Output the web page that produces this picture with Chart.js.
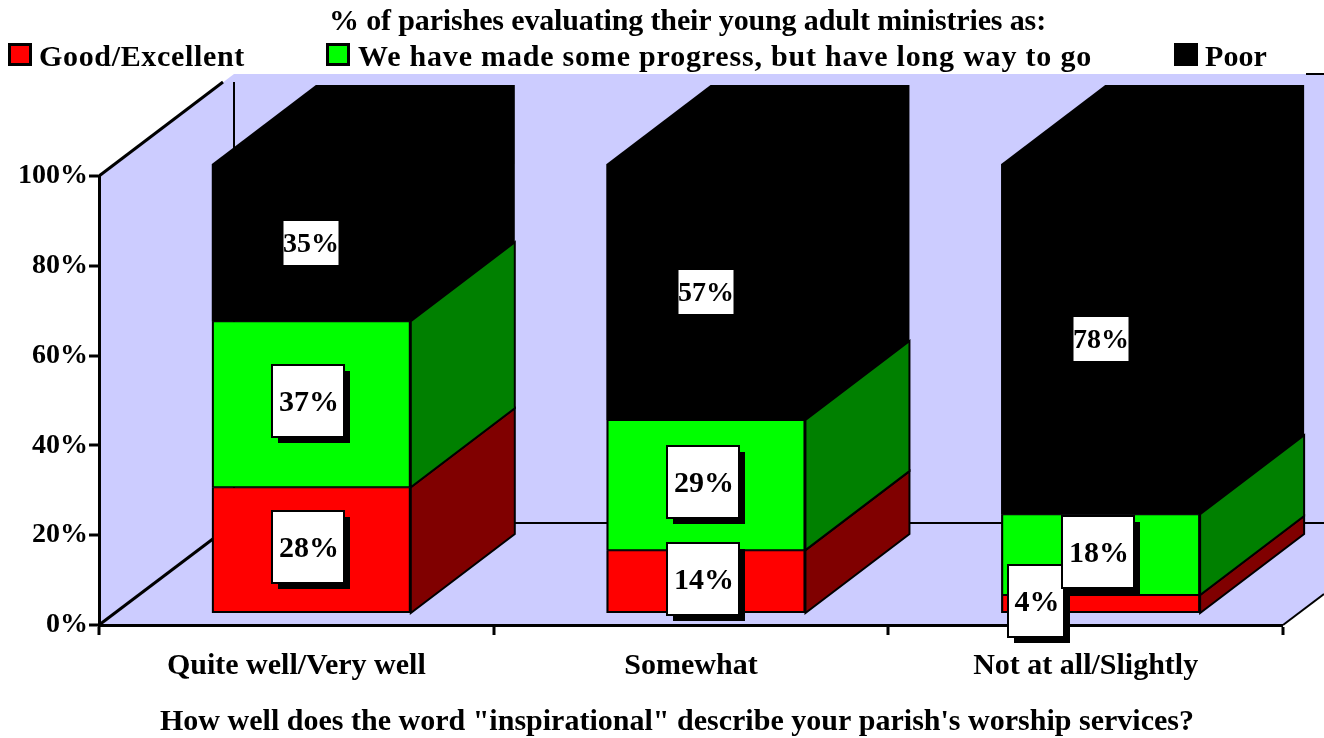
<!DOCTYPE html>
<html>
<head>
<meta charset="utf-8">
<title>Inspirational worship and young adult ministries</title>
<style>
  html, body { margin: 0; padding: 0; background: #fff; overflow: hidden; }
  canvas { display: block; }
</style>
<script src="https://cdn.jsdelivr.net/npm/chart.js@4"></script>
</head>
<body>
<canvas id="chart" width="1324" height="738"></canvas>
<script>
// Values (% of parishes).
var categories = ['Quite well/Very well', 'Somewhat', 'Not at all/Slightly'];
var goodExcellent = [28, 14, 4];
var someProgress = [37, 29, 18];
var poor = [35, 57, 78];

var seriesNames = ['Good/Excellent', 'We have made some progress, but have long way to go', 'Poor'];
var chartTitle = '% of parishes evaluating their young adult ministries as:';
var axisTitle = 'How well does the word "inspirational" describe your parish\'s worship services?';

var FONT = '"Liberation Serif", serif';
var RED = '#FF0000', GREEN = '#00FF00', BLACK = '#000000', WALL = '#CCCCFF';
var SIDE_COLORS = ['#800000', '#008000', '#000000'];

// 3D look: wall depth, bar shift off the axis, bar depth.
var WALL_DX = 135, WALL_DY = -102;
var SHIFT_X = 15, SHIFT_Y = -12;
var BAR_DX = 104, BAR_DY = -79;

function line(ctx, x1, y1, x2, y2, width) {
    ctx.beginPath();
    ctx.moveTo(x1, y1);
    ctx.lineTo(x2, y2);
    ctx.lineWidth = width;
    ctx.strokeStyle = BLACK;
    ctx.stroke();
}

function poly(ctx, pts, fill, stroke) {
    ctx.beginPath();
    pts.forEach(function (p, i) {
        if (i === 0) ctx.moveTo(p[0], p[1]);
        else ctx.lineTo(p[0], p[1]);
    });
    ctx.closePath();
    ctx.fillStyle = fill;
    ctx.fill();
    if (stroke) {
        ctx.lineWidth = 2;
        ctx.strokeStyle = BLACK;
        ctx.stroke();
    }
}

// Text squeezed or spread to a target width (the original face is wider).
function fitText(ctx, text, x, baseline, width, size) {
    ctx.save();
    ctx.font = 'bold ' + size + 'px ' + FONT;
    ctx.textAlign = 'left';
    ctx.textBaseline = 'alphabetic';
    ctx.fillStyle = BLACK;
    ctx.letterSpacing = '0px';
    var natural = ctx.measureText(text).width;
    ctx.letterSpacing = ((width - natural) / text.length).toFixed(3) + 'px';
    ctx.fillText(text, x, baseline);
    ctx.restore();
}

var wallsPlugin = {
    id: 'walls',
    beforeDraw: function (chart) {
        var ctx = chart.ctx, a = chart.chartArea;
        var w = chart.width;
        var backX = a.left + WALL_DX;
        var backFloor = a.bottom + WALL_DY;
        var topY = a.top + WALL_DY;
        ctx.save();
        poly(ctx, [[a.left, a.top], [backX, topY], [w, topY], [w, a.bottom - (w - a.right) * 0.756],
            [a.right, a.bottom], [a.left, a.bottom]], WALL);
        line(ctx, a.left, a.top, a.left + 124, a.top - 94, 3);
        line(ctx, backX, topY + 8, backX, backFloor, 2);
        line(ctx, a.left, a.bottom, backX, backFloor, 3);
        line(ctx, backX, backFloor, w, backFloor, 2);
        line(ctx, a.right, a.bottom, w, a.bottom - (w - a.right) * 0.756, 2);
        line(ctx, 1306, topY, w, topY, 2);
        ctx.restore();
    },
    beforeDatasetsDraw: function (chart) {
        var ctx = chart.ctx;
        ctx.save();
        ctx.translate(SHIFT_X, SHIFT_Y);
        var last = chart.data.datasets.length - 1;
        chart.data.datasets.forEach(function (ds, i) {
            chart.getDatasetMeta(i).data.forEach(function (bar) {
                var r = bar.x + bar.width / 2, l = bar.x - bar.width / 2;
                if (i === last) {
                    // top, front and side of the black segment as one shape, no seams
                    poly(ctx, [[l, bar.y], [l + BAR_DX, bar.y + BAR_DY], [r + BAR_DX, bar.y + BAR_DY],
                        [r + BAR_DX, bar.base + BAR_DY], [r, bar.base], [l, bar.base]], BLACK, false);
                } else {
                    poly(ctx, [[r, bar.y], [r + BAR_DX, bar.y + BAR_DY], [r + BAR_DX, bar.base + BAR_DY], [r, bar.base]],
                        SIDE_COLORS[i], true);
                    // black underlay so no seam shows between stacked segments
                    ctx.fillStyle = BLACK;
                    ctx.fillRect(l, bar.y, bar.width, bar.base - bar.y);
                }
            });
        });
    },
    afterDatasetsDraw: function (chart) {
        chart.ctx.restore();
    }
};

var labelsPlugin = {
    id: 'boxLabels',
    afterDatasetsDraw: function (chart) {
        var ctx = chart.ctx;
        chart.data.datasets.forEach(function (ds, i) {
            chart.getDatasetMeta(i).data.forEach(function (bar, j) {
                var v = ds.data[j];
                var cx = Math.round(bar.x + SHIFT_X), cy = Math.round((bar.y + bar.base) / 2 + SHIFT_Y);
                ctx.save();
                if (i === 2) {
                    // on black there is only a plain white patch
                    ctx.fillStyle = '#fff';
                    ctx.fillRect(cx - 27.5, cy - 22, 55, 44);
                } else {
                    var bw = 72;
                    cx -= 3; cy -= 3;
                    // the 4% box was dragged to the left of its segment
                    if (v === 4) { cx -= 62; bw = 56; }
                    ctx.fillStyle = BLACK;
                    ctx.fillRect(cx - bw / 2 + 6, cy - 36 + 6, bw, 72);
                    ctx.fillStyle = '#fff';
                    ctx.fillRect(cx - bw / 2, cy - 36, bw, 72);
                    ctx.lineWidth = 2;
                    ctx.strokeStyle = BLACK;
                    ctx.strokeRect(cx - bw / 2, cy - 36, bw, 72);
                }
                ctx.fillStyle = BLACK;
                ctx.font = 'bold ' + (i === 2 ? 28 : 30) + 'px ' + FONT;
                ctx.textAlign = 'center';
                ctx.textBaseline = 'middle';
                ctx.fillText(v + '%', i === 2 ? cx : cx + 1, cy + 2);
                ctx.restore();
            });
        });
    }
};

var textPlugin = {
    id: 'headerText',
    afterDraw: function (chart) {
        var ctx = chart.ctx;
        fitText(ctx, chartTitle, 329, 30, 717, 30);
        [[9, RED, 39, 206], [327, GREEN, 358, 734], [1175, BLACK, 1205, 62]].forEach(function (k, i) {
            ctx.fillStyle = k[1];
            ctx.fillRect(k[0], 44, 22, 21);
            ctx.lineWidth = 3;
            ctx.strokeStyle = BLACK;
            ctx.strokeRect(k[0] + 0.5, 44.5, 21, 20);
            fitText(ctx, seriesNames[i], k[2], 66, k[3], 30);
        });
        fitText(ctx, axisTitle, 160, 730, 1034, 30);
    }
};

function bars(label, data, color, edge) {
    return {
        label: label,
        data: data,
        backgroundColor: color,
        borderColor: BLACK,
        borderWidth: edge,
        borderSkipped: false,
        categoryPercentage: 0.504,
        barPercentage: 1,
        inflateAmount: 0,
        clip: false
    };
}

new Chart(document.getElementById('chart'), {
    type: 'bar',
    data: {
        labels: categories,
        datasets: [
            bars(seriesNames[0], goodExcellent, RED, { left: 2, right: 2, bottom: 2, top: 1 }),
            bars(seriesNames[1], someProgress, GREEN, { left: 2, right: 2, bottom: 1, top: 1 }),
            bars(seriesNames[2], poor, BLACK, 0)
        ]
    },
    options: {
        responsive: false,
        animation: false,
        layout: { padding: { top: 176, right: 41, left: 0, bottom: 0 } },
        plugins: { legend: { display: false }, tooltip: { enabled: false } },
        scales: {
            x: {
                stacked: true,
                afterFit: function (s) { s.height = 113; },
                border: { color: BLACK, width: 3 },
                grid: { drawOnChartArea: false, color: BLACK, lineWidth: 0, tickColor: BLACK, tickLength: 10, tickWidth: 3 },
                ticks: {
                    color: BLACK,
                    maxRotation: 0,
                    padding: 13,
                    font: { family: FONT, size: 30, weight: 'bold' }
                }
            },
            y: {
                stacked: true,
                min: 0,
                max: 100,
                afterFit: function (s) { s.width = 99; },
                border: { color: BLACK, width: 3 },
                grid: { drawOnChartArea: false, color: BLACK, lineWidth: 0, tickColor: BLACK, tickLength: 10, tickWidth: 3 },
                ticks: {
                    stepSize: 20,
                    color: BLACK,
                    padding: 1,
                    font: { family: FONT, size: 28, weight: 'bold' },
                    callback: function (v) { return v + '%'; }
                }
            }
        }
    },
    plugins: [wallsPlugin, labelsPlugin, textPlugin]
});
</script>
</body>
</html>
